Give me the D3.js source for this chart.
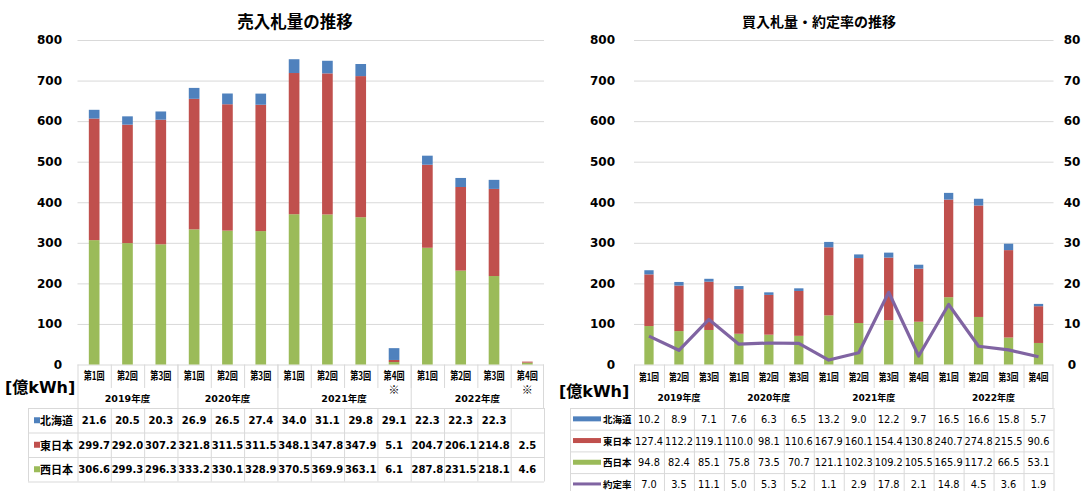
<!DOCTYPE html>
<html>
<head>
<meta charset="utf-8">
<script src="https://cdn.jsdelivr.net/npm/d3@7"></script>
<style>
  body { margin: 0; background: #fff; }
  svg { display: block; }
  text { fill: #000; }
  .num { font-family: "DejaVu Sans", "Noto Sans CJK JP", sans-serif; }
  .jp { font-family: "Noto Sans CJK JP", sans-serif; }
</style>
</head>
<body>
<svg id="chart" width="1088" height="491"></svg>
<script>
// カテゴリ
const rounds = ['第1回', '第2回', '第3回', '第1回', '第2回', '第3回', '第1回', '第2回', '第3回', '第4回', '第1回', '第2回', '第3回', '第4回'];
const sellNotes = ['', '', '', '', '', '', '', '', '', '※', '', '', '', '※'];
const years = ['2019年度', '2020年度', '2021年度', '2022年度'];
const yearSpans = [3, 3, 4, 4];
const yTicks = [0, 100, 200, 300, 400, 500, 600, 700, 800];
const rateTicks = [0, 10, 20, 30, 40, 50, 60, 70, 80];

// 売入札量 [億kWh]
const sellHokkaido = [21.6, 20.5, 20.3, 26.9, 26.5, 27.4, 34.0, 31.1, 29.8, 29.1, 22.3, 22.3, 22.3, null];
const sellEast = [299.7, 292.0, 307.2, 321.8, 311.5, 311.5, 348.1, 347.8, 347.9, 5.1, 204.7, 206.1, 214.8, 2.5];
const sellWest = [306.6, 299.3, 296.3, 333.2, 330.1, 328.9, 370.5, 369.9, 363.1, 6.1, 287.8, 231.5, 218.1, 4.6];

// 買入札量 [億kWh] と 約定率 [%]
const buyHokkaido = [10.2, 8.9, 7.1, 7.6, 6.3, 6.5, 13.2, 9.0, 12.2, 9.7, 16.5, 16.6, 15.8, 5.7];
const buyEast = [127.4, 112.2, 119.1, 110.0, 98.1, 110.6, 167.9, 160.1, 154.4, 130.8, 240.7, 274.8, 215.5, 90.6];
const buyWest = [94.8, 82.4, 85.1, 75.8, 73.5, 70.7, 121.1, 102.3, 109.2, 105.5, 165.9, 117.2, 66.5, 53.1];
const contractRate = [7.0, 3.5, 11.1, 5.0, 5.3, 5.2, 1.1, 2.9, 17.8, 2.1, 14.8, 4.5, 3.6, 1.9];

const C_BLUE = '#4f81bd', C_RED = '#c0504d', C_GREEN = '#9bbb59', C_PURPLE = '#8064a2';
const GRID = '#d9d9d9';

const svg = d3.select('#chart');

function drawPanel(cfg) {
  const g = svg.append('g');
  const x = d3.scaleBand().domain(d3.range(rounds.length)).range([cfg.x0, cfg.x1]).paddingInner(cfg.pad).paddingOuter(cfg.pad / 2);
  const xCol = d3.scaleBand().domain(d3.range(rounds.length)).range([cfg.x0, cfg.x1]);
  const y = d3.scaleLinear().domain([0, 800]).range([cfg.yZero, cfg.yTop]);

  // タイトル
  g.append('text').attr('class', 'jp').attr('x', cfg.titleX).attr('y', 21)
    .attr('text-anchor', 'middle').attr('dominant-baseline', 'central')
    .attr('font-size', cfg.titleSize).attr('font-weight', 'bold').text(cfg.title);

  // グリッド線
  g.selectAll('line.grid').data(yTicks).join('line')
    .attr('x1', cfg.x0).attr('x2', cfg.x1)
    .attr('y1', d => y(d) + 0.5).attr('y2', d => y(d) + 0.5)
    .attr('stroke', GRID).attr('stroke-width', 1);

  // 左軸
  const ax = g.append('g').attr('transform', `translate(${cfg.axisX},0)`)
    .call(d3.axisLeft(y).tickValues(yTicks).tickSize(0).tickPadding(0));
  ax.select('.domain').remove();
  ax.selectAll('text').attr('class', 'num').attr('font-size', 12).attr('font-weight', 'bold').attr('fill', '#000');

  // 積み上げ棒
  const stackData = rounds.map((r, i) => ({ i, west: cfg.west[i] || 0, east: cfg.east[i] || 0, hok: cfg.hok[i] || 0 }));
  const series = d3.stack().keys(['west', 'east', 'hok'])(stackData);
  const colors = { west: C_GREEN, east: C_RED, hok: C_BLUE };
  g.selectAll('g.series').data(series).join('g')
    .attr('fill', d => colors[d.key])
    .selectAll('rect').data(d => d).join('rect')
      .attr('x', d => x(d.data.i))
      .attr('width', x.bandwidth())
      .attr('y', d => y(d[1]))
      .attr('height', d => Math.max(0, y(d[0]) - y(d[1])));

  // 約定率 (右軸)
  if (cfg.rate) {
    const y2 = d3.scaleLinear().domain([0, 80]).range([cfg.yZero, cfg.yTop]);
    const line = d3.line().x((d, i) => xCol(i) + xCol.bandwidth() / 2).y(d => y2(d));
    g.append('path').datum(cfg.rate).attr('d', line)
      .attr('fill', 'none').attr('stroke', C_PURPLE).attr('stroke-width', 3.2).attr('stroke-linejoin', 'round');
    const ax2 = g.append('g').attr('transform', `translate(${cfg.axis2X},0)`)
      .call(d3.axisRight(y2).tickValues(rateTicks).tickSize(0).tickPadding(0));
    ax2.select('.domain').remove();
    ax2.selectAll('text').attr('class', 'num').attr('font-size', 12).attr('font-weight', 'bold')
      .attr('text-anchor', 'middle').attr('fill', '#000');
  }

  // データテーブル
  const t = g.append('g');
  const hTop = cfg.yZero, hMid = 388, hBot = 408;
  const line = (x1, y1, x2, y2) => t.append('line').attr('x1', x1).attr('y1', y1).attr('x2', x2).attr('y2', y2)
    .attr('stroke', GRID).attr('stroke-width', 1);

  // 見出し: 回
  rounds.forEach((r, i) => {
    const cx = xCol(i) + xCol.bandwidth() / 2;
    t.append('text').attr('class', 'jp').attr('x', cx).attr('y', cfg.catY)
      .attr('text-anchor', 'middle').attr('dominant-baseline', 'central')
      .attr('font-size', cfg.catSize).attr('font-weight', 'bold')
      .attr('textLength', cfg.catLen).attr('lengthAdjust', 'spacingAndGlyphs').text(r);
    if (cfg.notes && cfg.notes[i]) {
      t.append('text').attr('class', 'jp').attr('x', cx).attr('y', 389)
        .attr('text-anchor', 'middle').attr('dominant-baseline', 'central')
        .attr('font-size', 11).attr('fill', '#555').text(cfg.notes[i]);
    }
    if (i > 0) line(xCol(i) + 0.5, hTop, xCol(i) + 0.5, hMid);
  });
  // 見出し: 年度
  let start = 0;
  years.forEach((yr, k) => {
    const a = xCol(start), b = xCol(start + yearSpans[k] - 1) + xCol.bandwidth();
    t.append('text').attr('class', 'num').attr('x', (a + b) / 2).attr('y', cfg.yearY)
      .attr('text-anchor', 'middle').attr('dominant-baseline', 'central')
      .attr('font-size', cfg.yearSize).attr('font-weight', 'bold').text(yr);
    line(a + 0.5, hTop, a + 0.5, hBot);
    start += yearSpans[k];
  });
  line(cfg.x1 - 0.5, hTop, cfg.x1 - 0.5, hBot);

  // 単位
  t.append('text').attr('class', 'num').attr('x', cfg.unitX).attr('y', cfg.unitY)
    .attr('dominant-baseline', 'central').attr('font-size', 16).attr('font-weight', 'bold').text('[億kWh]');

  // 行
  cfg.rows.forEach((row, r) => {
    const top = hBot + r * cfg.rowH;
    const cy = top + cfg.rowH / 2;
    line(cfg.rowX, top + 0.5, cfg.x1, top + 0.5);
    if (cfg.markerType === 'square') {
      t.append('rect').attr('x', cfg.rowX + 6).attr('y', cy - 3).attr('width', 6).attr('height', 6).attr('fill', row.color);
    } else {
      t.append('rect').attr('x', cfg.rowX + 3).attr('y', cy - (row.thin ? 1.5 : 2.5))
        .attr('width', 28).attr('height', row.thin ? 3 : 5).attr('fill', row.color);
    }
    t.append('text').attr('class', 'jp').attr('x', cfg.rowLabelX).attr('y', cy)
      .attr('dominant-baseline', 'central').attr('font-size', cfg.rowLabelSize).attr('font-weight', 'bold').text(row.name);
    row.values.forEach((v, i) => {
      if (v == null) return;
      t.append('text').attr('class', 'num').attr('x', xCol(i) + xCol.bandwidth() / 2).attr('y', cy + 0.5)
        .attr('text-anchor', 'middle').attr('dominant-baseline', 'central')
        .attr('font-size', cfg.valSize).attr('font-weight', cfg.valWeight).text(v.toFixed(1));
    });
  });
  const tBot = hBot + cfg.rows.length * cfg.rowH;
  line(cfg.rowX, tBot + 0.5, cfg.x1, tBot + 0.5);
  line(cfg.rowX + 0.5, hBot, cfg.rowX + 0.5, tBot);
  d3.range(rounds.length + 1).forEach(i => {
    const xx = i < rounds.length ? xCol(i) : cfg.x1;
    line(xx + 0.5, hBot, xx + 0.5, tBot);
  });
}

drawPanel({
  title: '売入札量の推移', titleX: 295, titleSize: 16.5,
  x0: 77.5, x1: 544, yTop: 40, yZero: 364.5, pad: 0.68, axisX: 62,
  west: sellWest, east: sellEast, hok: sellHokkaido,
  notes: sellNotes, catY: 375, catSize: 11, catLen: 21, yearY: 398, yearSize: 9.5,
  unitX: 5, unitY: 387,
  rowX: 28, rowH: 24.5, rowLabelX: 40, rowLabelSize: 11, markerType: 'square',
  valSize: 10, valWeight: 'bold',
  rows: [
    { name: '北海道', color: C_BLUE, values: sellHokkaido },
    { name: '東日本', color: C_RED, values: sellEast },
    { name: '西日本', color: C_GREEN, values: sellWest }
  ]
});

drawPanel({
  title: '買入札量・約定率の推移', titleX: 819, titleSize: 14,
  x0: 634, x1: 1053.5, yTop: 40, yZero: 364.5, pad: 0.69, axisX: 615, axis2X: 1072,
  west: buyWest, east: buyEast, hok: buyHokkaido, rate: contractRate,
  notes: null, catY: 376, catSize: 10.5, catLen: 20, yearY: 398, yearSize: 9,
  unitX: 559, unitY: 391,
  rowX: 570, rowH: 21.7, rowLabelX: 603, rowLabelSize: 9.5, markerType: 'line',
  valSize: 9.8, valWeight: 'normal',
  rows: [
    { name: '北海道', color: C_BLUE, values: buyHokkaido },
    { name: '東日本', color: C_RED, values: buyEast },
    { name: '西日本', color: C_GREEN, values: buyWest },
    { name: '約定率', color: C_PURPLE, values: contractRate, thin: true }
  ]
});
</script>
</body>
</html>
